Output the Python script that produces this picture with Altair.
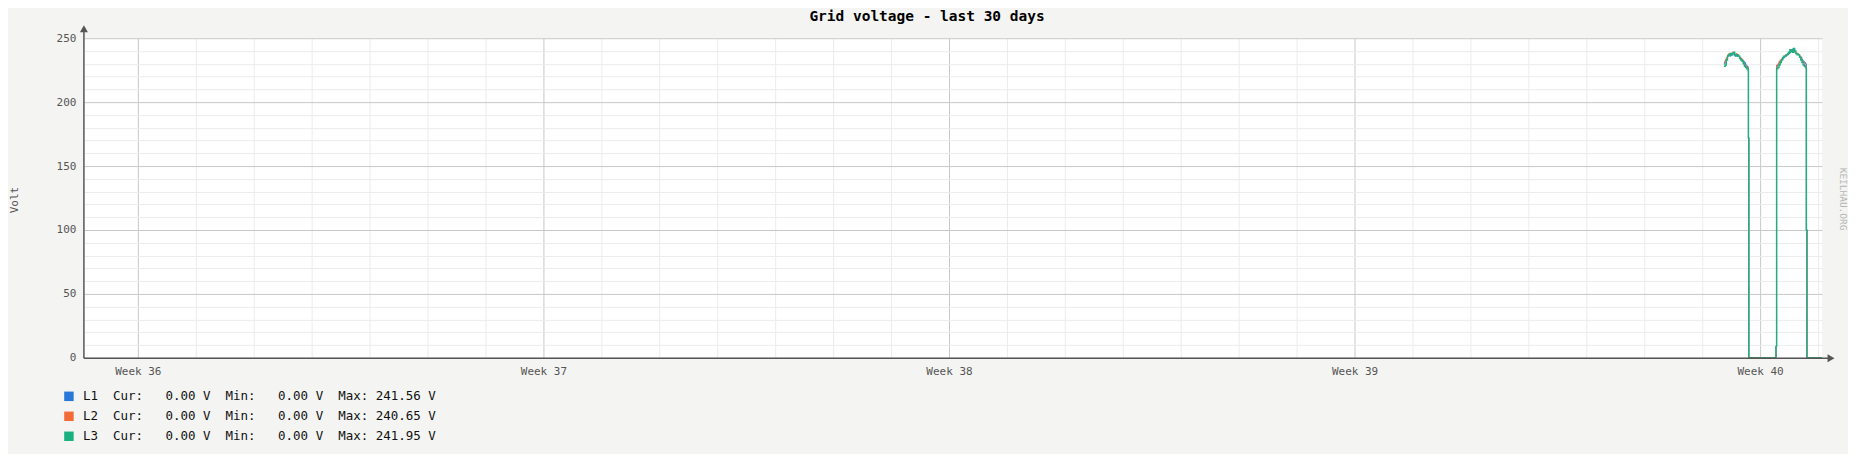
import altair as alt
import pandas as pd

# ---------------- data ----------------
times = [
    # Oct 1, first burst
    "2023-10-01T09:00", "2023-10-01T09:30", "2023-10-01T10:00", "2023-10-01T10:30",
    "2023-10-01T11:00", "2023-10-01T11:30", "2023-10-01T12:00", "2023-10-01T12:30",
    "2023-10-01T13:00", "2023-10-01T13:30", "2023-10-01T14:00", "2023-10-01T14:30",
    "2023-10-01T15:00", "2023-10-01T15:30", "2023-10-01T16:00", "2023-10-01T16:30",
    "2023-10-01T17:00", "2023-10-01T17:30", "2023-10-01T18:00", "2023-10-01T18:30",
    "2023-10-01T19:00",
    "2023-10-01T19:10", "2023-10-01T19:20",
    # Oct 2
    "2023-10-02T06:35",
    "2023-10-02T06:50", "2023-10-02T07:20", "2023-10-02T07:50", "2023-10-02T08:20",
    "2023-10-02T08:50", "2023-10-02T09:20", "2023-10-02T09:50", "2023-10-02T10:20",
    "2023-10-02T10:50", "2023-10-02T11:20", "2023-10-02T11:50", "2023-10-02T12:20",
    "2023-10-02T12:50", "2023-10-02T13:20", "2023-10-02T13:50", "2023-10-02T14:20",
    "2023-10-02T14:50", "2023-10-02T15:20", "2023-10-02T15:50", "2023-10-02T16:20",
    "2023-10-02T16:50", "2023-10-02T17:20", "2023-10-02T17:50", "2023-10-02T18:20",
    "2023-10-02T18:50",
    "2023-10-02T19:10", "2023-10-02T19:25", "2023-10-03T01:39",
]

l1 = [230, 232, 234, 236, 237, 236, 237, 237, 237, 236, 237, 236, 236, 235, 234, 233, 232, 231, 229, 228, 227,
      172, 0,
      9,
      228, 229, 231, 232, 233, 234, 235, 236, 237, 237, 238, 239, 240, 241.56, 240, 239, 238, 238, 237, 236,
      235, 233, 232, 231, 230,
      100, 0, 0]
l2 = [231, 233, 235, 237, 238, 237, 238, 239, 238, 237, 238, 237, 236, 235, 234, 233, 231, 229, 228, 227, 226,
      172, 0,
      9,
      229, 230, 232, 233, 234, 235, 236, 237, 237, 238, 239, 240, 240.65, 239, 240, 239, 238, 238, 237, 236,
      234, 232, 231, 229, 228,
      100, 0, 0]
l3 = [228, 229, 233, 236, 237, 238, 237, 238, 239, 237, 236, 237, 236, 234, 233, 232, 230, 228, 227, 226, 225,
      172, 0,
      9,
      226, 227, 229, 231, 233, 235, 236, 236, 237, 238, 239, 241, 240, 239, 241.95, 240, 238, 237, 237, 235,
      233, 231, 229, 228, 227,
      100, 0, 0]

series_names = ["L1", "L2", "L3"]
series_colors = ["#2878d8", "#f26b38", "#1bb07f"]
series_widths = [1.0, 1.0, 1.4]
cur_vals = [0.00, 0.00, 0.00]
min_vals = [0.00, 0.00, 0.00]
max_vals = [241.56, 240.65, 241.95]

y_major = [0, 50, 100, 150, 200, 250]
week_days = [(9, 4), (9, 11), (9, 18), (9, 25), (10, 2)]

title_text = "Grid voltage - last 30 days"
y_title = "Volt"
watermark = "KEILHAU.ORG"

# ---------------- build ----------------
df = pd.DataFrame({"time": times, "L1": l1, "L2": l2, "L3": l3})
long = df.melt("time", var_name="series", value_name="volt")

MONO = "DejaVu Sans Mono"
W, H = 1740, 320

# 30-day window (58 px per day)
x_scale = alt.Scale(domain=[
    alt.DateTime(year=2023, month=9, date=3, hours=1, minutes=39, seconds=18, milliseconds=620),
    alt.DateTime(year=2023, month=10, date=3, hours=1, minutes=39, seconds=18, milliseconds=620)])
y_scale = alt.Scale(domain=[0, 250], nice=False, zero=True)

week_ticks = [alt.DateTime(year=2023, month=m, date=d) for m, d in week_days]
day_ticks = [alt.DateTime(year=2023, month=t.month, date=t.day)
             for t in pd.date_range("2023-09-04", "2023-10-03") if (t.month, t.day) not in week_days]
y_minor = [v for v in range(0, 251, 10) if v % 50]

minor = alt.Chart(long).mark_line(opacity=0).encode(
    x=alt.X("time:T", scale=x_scale,
            axis=alt.Axis(values=day_ticks, grid=True, gridColor="#ececec", labels=False, ticks=False,
                          domain=False, title=None, orient="bottom")),
    y=alt.Y("volt:Q", scale=y_scale,
            axis=alt.Axis(values=y_minor, grid=True, gridColor="#ececec", labels=False, ticks=False,
                          domain=False, title=None, orient="left")),
)

major = alt.Chart(long).mark_line(opacity=0).encode(
    x=alt.X("time:T", scale=x_scale,
            axis=alt.Axis(values=week_ticks, format="Week %V", grid=True, gridColor="#c8c8c8",
                          ticks=False, domain=False, title=None, orient="bottom",
                          labelFont=MONO, labelFontSize=11, labelColor="#555555", labelPadding=8,
                          labelFlush=False, labelOverlap=False)),
    y=alt.Y("volt:Q", scale=y_scale,
            axis=alt.Axis(values=y_major, grid=True, gridColor="#c8c8c8", ticks=False, domain=False,
                          title=None, orient="left", labelFont=MONO, labelFontSize=11,
                          labelColor="#555555", labelPadding=8, labelFlush=False, labelOverlap=False)),
)

series_layers = []
for name, col, sw in zip(series_names, series_colors, series_widths):
    series_layers.append(
        alt.Chart(long).transform_filter(alt.datum.series == name)
        .mark_line(interpolate="step-after", strokeWidth=sw, color=col)
        .encode(x=alt.X("time:T", scale=x_scale, axis=None),
                y=alt.Y("volt:Q", scale=y_scale, axis=None))
    )

one = alt.Data(values=[{}])
AXC = "#555555"
deco = [
    alt.Chart(one).mark_rule(color=AXC, strokeWidth=1.5).encode(
        x=alt.value(0), x2=alt.value(W + 6), y=alt.value(H + 0.5)),
    alt.Chart(one).mark_rule(color=AXC, strokeWidth=1.5).encode(
        x=alt.value(0), y=alt.value(-7), y2=alt.value(H + 0.5)),
    alt.Chart(one).mark_point(shape="triangle-up", filled=True, size=64, color=AXC, opacity=1).encode(
        x=alt.value(0), y=alt.value(-9.5)),
    alt.Chart(one).mark_point(shape="triangle-right", filled=True, size=64, color=AXC, opacity=1).encode(
        x=alt.value(W + 9), y=alt.value(H + 0.5)),
    alt.Chart(one).mark_text(font=MONO, fontSize=14.5, fontWeight="bold", color="#000000",
                             align="center", baseline="alphabetic").encode(
        x=alt.value(844), y=alt.value(-17.5), text=alt.value(title_text)),
    alt.Chart(one).mark_text(font=MONO, fontSize=11, color="#555555", angle=270,
                             align="center", baseline="middle").encode(
        x=alt.value(-69), y=alt.value(162), text=alt.value(y_title)),
    alt.Chart(one).mark_text(font=MONO, fontSize=9.5, color="#b4b4b4", angle=90,
                             align="center", baseline="middle").encode(
        x=alt.value(W + 21), y=alt.value(161), text=alt.value(watermark)),
]

legend_layers = []
for i, (name, col, c, mn, mx) in enumerate(zip(series_names, series_colors, cur_vals, min_vals, max_vals)):
    label = f"{name}  Cur: {c:6.2f} V  Min: {mn:6.2f} V  Max: {mx:6.2f} V".replace(" ", "\u00a0")
    legend_layers.append(
        alt.Chart(one).mark_square(size=90, color=col, opacity=1).encode(
            x=alt.value(-15), y=alt.value(358.5 + 20 * i)))
    legend_layers.append(
        alt.Chart(one).mark_text(font=MONO, fontSize=12.5, color="#111111", align="left",
                                 baseline="middle").encode(
            x=alt.value(-1), y=alt.value(358.5 + 20 * i), text=alt.value(label)))

chart = alt.layer(minor, major, *series_layers, *deco, *legend_layers).resolve_axis(
    x="independent", y="independent"
).properties(
    width=W, height=H,
    padding={"left": 76, "top": 30, "right": 26, "bottom": 96},
    autosize="none",
    background="#f4f4f2",
).configure_view(fill="white", stroke=None)

chart.save("out.html", embed_options={"renderer": "svg", "actions": False})
